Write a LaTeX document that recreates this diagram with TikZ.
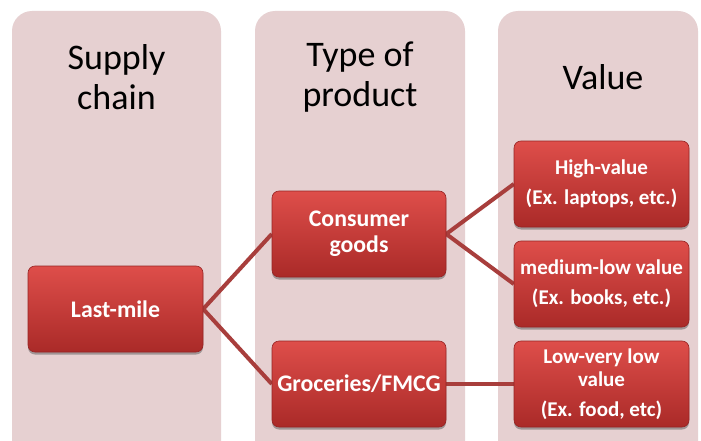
\documentclass[tikz,border=0pt]{standalone}
\usepackage{fontspec}
\setmainfont{Carlito}
\usetikzlibrary{shadows}
\definecolor{panelfill}{RGB}{230,208,209}
\definecolor{boxtop}{RGB}{222,78,74}
\definecolor{boxbot}{RGB}{170,42,40}
\definecolor{boxedge}{RGB}{150,36,36}
\definecolor{linkcol}{RGB}{168,62,60}
\tikzset{
  panel/.style={fill=panelfill, draw=none, rounded corners=20pt},
  paneltitle/.style={font=\fontsize{36}{40}\selectfont, align=center, text=black},
  redbox/.style={rounded corners=7pt, draw=boxedge, line width=0.6pt,
    top color=boxtop, bottom color=boxbot, minimum width=175pt, minimum height=86pt,
    text=white, align=center, inner sep=2pt,
    drop shadow={shadow xshift=0pt, shadow yshift=-2.5pt, opacity=0.45, fill=black!70}},
  bigtext/.style={font=\fontsize{23.8}{26}\selectfont\bfseries},
  valtext/.style={font=\fontsize{21}{23}\selectfont\bfseries},
  link/.style={draw=linkcol, line width=4pt}
}
\begin{document}
\begin{tikzpicture}[x=1pt,y=-1pt]
\useasboundingbox (0,0) rectangle (701,441);
\clip (0,0) rectangle (701,441);
\fill[white] (0,0) rectangle (701,441);
% panels
\path[panel] (12,11) rectangle (221,470);
\path[panel] (255,11) rectangle (465,470);
\path[panel] (498,11) rectangle (698,470);
% titles
\node[paneltitle] (t1) at (116.5,77) {Supply\\chain};
\node[paneltitle] (t2) at (360,77) {Type of\\product};
\node[paneltitle] (t3) at (603,77) {Value};
% node centres
\coordinate (lastc) at (115.5,309);
\coordinate (consc) at (359,234);
\coordinate (grocc) at (359,384);
\coordinate (highc) at (601.5,184);
\coordinate (medc) at (601.5,284);
\coordinate (lowc) at (601.5,384);
% invisible shape placeholders for anchors
\node[minimum width=175pt, minimum height=86pt, inner sep=0pt] (last) at (lastc) {};
\node[minimum width=174pt, minimum height=86pt, inner sep=0pt] (cons) at (consc) {};
\node[minimum width=174pt, minimum height=86pt, inner sep=0pt] (groc) at (grocc) {};
\node[minimum width=175pt, minimum height=86pt, inner sep=0pt] (high) at (highc) {};
\node[minimum width=175pt, minimum height=86pt, inner sep=0pt] (med) at (medc) {};
\node[minimum width=175pt, minimum height=86pt, inner sep=0pt] (low) at (lowc) {};
% connectors
\draw[link] (last.east) -- (cons.west);
\draw[link] (last.east) -- (groc.west);
\draw[link] (cons.east) -- (high.west);
\draw[link] (cons.east) -- (med.west);
\draw[link] (groc.east) -- (low.west);
% boxes
\node[redbox, bigtext] (lastbox) at (lastc) {Last-mile};
\node[redbox, bigtext, minimum width=174pt] (consbox) at (consc) {Consumer\\goods};
\node[redbox, bigtext, minimum width=174pt] (grocbox) at (grocc) {Groceries/FMCG};
\node[redbox, valtext] (highbox) at (highc) {High-value\\[7pt](Ex. laptops, etc.)};
\node[redbox, valtext] (medbox) at (medc) {medium-low value\\[7pt](Ex. books, etc.)};
\node[redbox, valtext] (lowbox) at (lowc) {Low-very low\\value\\[7pt](Ex. food, etc)};
\end{tikzpicture}
\end{document}
